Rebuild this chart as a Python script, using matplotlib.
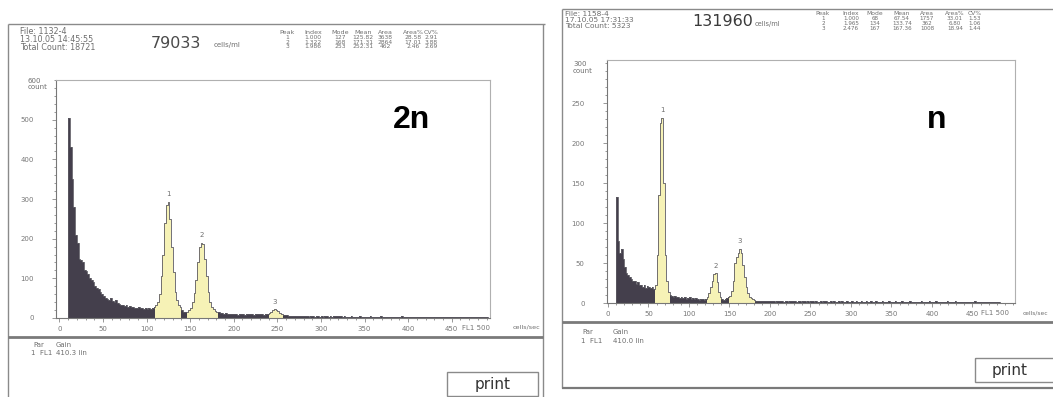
import numpy as np
import matplotlib.pyplot as plt
from matplotlib.ticker import MultipleLocator
from matplotlib.patches import Rectangle

W, H = 1053, 397

# histogram counts, bins are 2 channels wide starting at channel 0
bin_width = 2

# 2n sample (left)
left_counts = [
    0, 0, 0, 0, 0, 505, 430, 350, 280, 210,        # 0-18
    190, 150, 145, 140, 120, 118, 110, 100, 95, 90,  # 20-38
    80, 76, 72, 65, 60, 55, 50, 48, 45, 50,          # 40-58
    42, 40, 45, 38, 36, 33, 34, 30, 32, 28,          # 60-78
    30, 27, 28, 26, 25, 27, 24, 25, 23, 24,          # 80-98
    22, 24, 23, 25, 27, 32, 40, 60, 105, 160,        # 100-118
    240, 285, 292, 250, 180, 115, 65, 45, 32, 28,    # 120-138
    20, 15, 14, 16, 20, 26, 40, 62, 95, 140,         # 140-158
    180, 190, 186, 150, 105, 65, 40, 28, 22, 18,     # 160-178
    15, 14, 12, 13, 11, 12, 10, 11, 9, 10,           # 180-198
    9, 10, 8, 11, 9, 10, 8, 9, 11, 9,                # 200-218
    10, 8, 9, 11, 10, 9, 10, 8, 9, 11,               # 220-238
    12, 16, 20, 22, 21, 17, 13, 10, 8, 7,            # 240-258
    7, 6, 6, 5, 6, 5, 4, 5, 4, 5,                    # 260-278
    4, 4, 5, 3, 4, 4, 3, 4, 5, 3,                    # 280-298
    4, 3, 4, 5, 3, 4, 3, 5, 6, 5,                    # 300-318
    6, 4, 3, 4, 3, 2, 3, 4, 3, 3,                    # 320-338
    2, 3, 4, 3, 2, 3, 3, 2, 4, 3,                    # 340-358
    3, 2, 2, 3, 4, 2, 3, 2, 2, 3,                    # 360-378
    2, 3, 2, 2, 3, 2, 4, 3, 2, 2,                    # 380-398
    3, 2, 2, 3, 2, 2, 3, 2, 3, 2,                    # 400-418
    2, 3, 2, 2, 2, 3, 2, 2, 3, 2,                    # 420-438
    2, 2, 3, 2, 2, 3, 2, 2, 2, 3,                    # 440-458
    2, 2, 3, 2, 2, 2, 3, 2, 2, 3,                    # 460-478
    2, 3, 2, 2, 3, 2, 0, 0, 0, 0,                    # 480-498
]
left_gates = [(110, 140), (146, 182), (240, 256)]

# n sample (right)
right_counts = [
    0, 0, 0, 0, 0, 133, 78, 62, 68, 55,              # 0-18
    45, 38, 35, 32, 30, 27, 28, 24, 26, 22,          # 20-38
    23, 20, 22, 19, 21, 20, 19, 20, 18, 22,          # 40-58
    60, 135, 225, 232, 150, 60, 28, 14, 10, 9,       # 60-78
    8, 9, 7, 8, 6, 7, 6, 7, 5, 6,                    # 80-98
    7, 5, 6, 5, 6, 5, 4, 5, 5, 4,                    # 100-118
    5, 7, 12, 20, 28, 36, 37, 26, 14, 8,             # 120-138
    5, 4, 5, 6, 7, 9, 15, 28, 50, 58,                # 140-158
    62, 68, 62, 48, 32, 20, 12, 8, 6, 5,             # 160-178
    4, 3, 3, 2, 3, 2, 2, 3, 2, 2,                    # 180-198
    3, 2, 2, 1, 2, 3, 2, 2, 1, 2,                    # 200-218
    2, 1, 2, 3, 2, 2, 1, 2, 2, 1,                    # 220-238
    2, 2, 1, 2, 1, 2, 2, 1, 2, 1,                    # 240-258
    1, 2, 1, 2, 2, 1, 1, 2, 1, 2,                    # 260-278
    1, 1, 2, 1, 2, 1, 1, 2, 1, 1,                    # 280-298
    2, 1, 1, 2, 1, 1, 2, 1, 1, 2,                    # 300-318
    1, 1, 2, 1, 1, 2, 1, 1, 1, 2,                    # 320-338
    1, 1, 1, 2, 1, 1, 1, 2, 1, 1,                    # 340-358
    1, 2, 1, 1, 1, 1, 2, 1, 1, 1,                    # 360-378
    1, 1, 1, 2, 1, 1, 1, 1, 2, 1,                    # 380-398
    1, 1, 2, 1, 1, 1, 1, 1, 1, 2,                    # 400-418
    1, 1, 1, 1, 2, 1, 1, 1, 1, 1,                    # 420-438
    1, 1, 1, 1, 1, 1, 2, 1, 1, 1,                    # 440-458
    1, 1, 1, 1, 1, 1, 1, 1, 1, 1,                    # 460-478
    1, 1, 0, 0, 0, 0, 0, 0, 0, 0,                    # 480-498
]
right_gates = [(58, 76), (122, 140), (150, 182)]

# header texts
left_header = ["File: 1132-4", "13.10.05 14:45:55", "Total Count: 18721"]
right_header = ["File: 1158-4", "17.10.05 17:31:33", "Total Count: 5323"]
left_conc = "79033"
right_conc = "131960"
table_cols = ["Peak", "Index", "Mode", "Mean", "Area", "Area%", "CV%"]
left_table = [["1", "1.000", "127", "125.82", "3638", "28.58", "2.91"],
              ["2", "1.322", "168", "171.31", "2864", "17.01", "3.88"],
              ["3", "1.986", "253", "252.31", "462", "2.46", "2.69"]]
right_table = [["1", "1.000", "68", "67.54", "1757", "33.01", "1.53"],
               ["2", "1.965", "134", "133.74", "362", "6.80", "1.06"],
               ["3", "2.476", "167", "167.36", "1008", "18.94", "1.44"]]
left_gain = "410.3 lin"
right_gain = "410.0 lin"
left_tag = "2n"
right_tag = "n"

DARK = "#443f4c"
YELLOW = "#f6f2b6"
OUTLINE = "#5c5a62"
GREY = "#6e6e6e"

fig = plt.figure(figsize=(W / 100, H / 100), dpi=100)
bg = fig.add_axes([0, 0, 1, 1])
bg.set_xlim(0, W)
bg.set_ylim(H, 0)
bg.axis("off")


def px_axes(x0, y0, x1, y1):
    return fig.add_axes([x0 / W, 1 - y1 / H, (x1 - x0) / W, (y1 - y0) / H])


def draw_hist(ax, counts, gates, xlim, ytop, ystep, yminor):
    counts = np.array(counts)
    edges = np.arange(len(counts)) * bin_width
    ax.bar(edges, counts, width=bin_width, align="edge", color=DARK, lw=0)
    for i, (lo, hi) in enumerate(gates):
        m = (edges >= lo) & (edges < hi)
        ax.bar(edges[m], counts[m], width=bin_width, align="edge", color=YELLOW, lw=0)
        k = np.argmax(np.where(m, counts, -1))
        ax.text(edges[k] + 1, counts[k] + ytop * 0.02, str(i + 1), ha="center",
                va="bottom", fontsize=5, color=GREY)
    ax.step(np.append(edges, edges[-1] + bin_width), np.append(counts, counts[-1]),
            where="post", color=OUTLINE, lw=0.6)
    ax.set_xlim(*xlim)
    ax.set_ylim(0, ytop)
    ax.set_facecolor("none")
    ax.set_xticks(np.arange(0, 451, 50))
    ax.set_yticks(np.arange(0, ytop - ystep / 2, ystep))
    ax.xaxis.set_minor_locator(MultipleLocator(10))
    ax.yaxis.set_minor_locator(MultipleLocator(yminor))
    ax.tick_params(which="both", direction="out", colors="#888888", labelcolor="#777777",
                   labelsize=5, width=0.6)
    ax.tick_params(which="major", length=3)
    ax.tick_params(which="minor", length=1.5)
    ax.tick_params(axis="y", pad=13)
    ax.tick_params(axis="x", pad=3)
    for s in ["left", "bottom"]:
        ax.spines[s].set_color("#777777")
        ax.spines[s].set_linewidth(0.8)
    for s in ["top", "right"]:
        ax.spines[s].set_color("#b0b0b0")
        ax.spines[s].set_linewidth(0.8)
    ax.text(478, -0.03 * ytop, "FL1 500", ha="center", va="top", fontsize=5, color="#777777")


def line(x0, y0, x1, y1, lw=1.0, color="#8a8a8a"):
    bg.plot([x0, x1], [y0, y1], color=color, lw=lw, solid_capstyle="butt")


def small(x, y, s, size=5.5, **kw):
    bg.text(x, y, s, fontsize=size, color=GREY, va="center", **kw)


# ---- left window ----
line(8, 24, 545, 24)
line(8, 24, 8, 397)
line(543, 24, 543, 397)
line(8, 337, 543, 337, lw=2.0, color="#7a7a7a")

for i, s in enumerate(left_header):
    small(20, 31 + 8 * i, s, size=5.8)
bg.text(151, 43, left_conc, fontsize=11.5, color="#4a4a4a", va="center")
small(214, 45, "cells/ml", size=5)

left_col_x = [287, 313, 340, 363, 385, 413, 431]
for x, c in zip(left_col_x, table_cols):
    small(x, 32, c, size=4.6, ha="center")
for r, row in enumerate(left_table):
    for x, v in zip(left_col_x, row):
        small(x, 37.5 + 4.6 * r, v, size=4.3, ha="center")

axl = px_axes(56, 80, 490, 318)
draw_hist(axl, left_counts, left_gates, (-4, 494), 600, 100, 20)
small(28, 81, "600", size=5)
small(28, 87, "count", size=5)
small(513, 327, "cells/sec", size=4.6)
bg.text(412, 120, left_tag, fontsize=23, fontweight="bold", family="Liberation Sans",
        ha="center", va="center", color="black")

small(33, 345, "Par", size=5)
small(56, 345, "Gain", size=5)
small(31, 353, "1  FL1", size=5)
small(56, 353, left_gain, size=5)

bg.add_patch(Rectangle((447, 372), 91, 24, fill=False, ec="#8a8a8a", lw=1.0))
bg.text(492.5, 384, "print", fontsize=11, color="#333333", ha="center", va="center")

# ---- right window ----
line(562, 9, W, 9)
line(562, 9, 562, 388)
line(562, 322, W, 322, lw=2.0, color="#7a7a7a")
line(562, 388, W, 388, lw=1.6, color="#7a7a7a")

for i, s in enumerate(right_header):
    small(565, 14 + 5.8 * i, s, size=5.4)
bg.text(692, 22, right_conc, fontsize=11.5, color="#3a3a3a", va="center")
small(755, 24, "cells/ml", size=4.8)

right_col_x = [823, 851, 875, 902, 927, 955, 975]
for x, c in zip(right_col_x, table_cols):
    small(x, 13.5, c, size=4.3, ha="center")
for r, row in enumerate(right_table):
    for x, v in zip(right_col_x, row):
        small(x, 19 + 4.5 * r, v, size=4.1, ha="center")

axr = px_axes(607, 60, 1015, 303)
draw_hist(axr, right_counts, right_gates, (-1.2, 502.5), 304, 50, 10)
small(573, 64, "300", size=5)
small(573, 71, "count", size=5)
small(1023, 313, "cells/sec", size=4.2)
bg.text(937, 120, right_tag, fontsize=23, fontweight="bold", family="Liberation Sans",
        ha="center", va="center", color="black")

small(582, 332, "Par", size=5)
small(613, 332, "Gain", size=5)
small(581, 341, "1  FL1", size=5)
small(613, 341, right_gain, size=5)

bg.add_patch(Rectangle((975, 358), 90, 24, fill=False, ec="#8a8a8a", lw=1.0, clip_on=False))
bg.text(1010, 371, "print", fontsize=11, color="#333333", ha="center", va="center")

fig.savefig("out.png", dpi=100)
